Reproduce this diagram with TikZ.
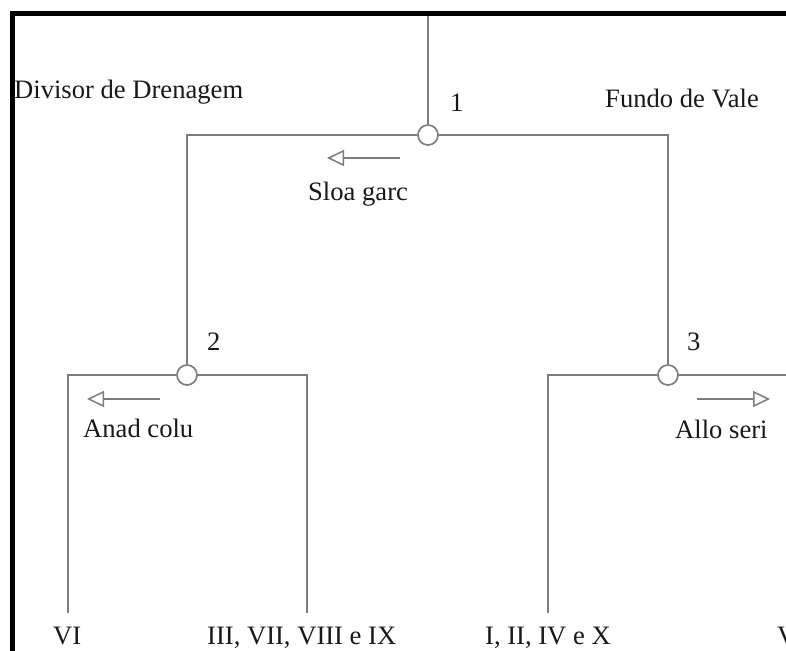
\documentclass[tikz,border=0pt]{standalone}
\usepackage{fontspec}
\setmainfont{Liberation Serif}
\usetikzlibrary{arrows.meta}
\definecolor{linegray}{RGB}{125,125,125}
\definecolor{inkgray}{RGB}{25,25,25}
\begin{document}
\begin{tikzpicture}[x=1pt,y=-1pt,
  branch/.style={draw=linegray,line width=1.7pt},
  junction/.style={circle,draw=linegray,line width=1.7pt,fill=white,minimum size=20pt,inner sep=0pt},
  lbl/.style={anchor=base west,text=inkgray,font=\fontsize{26.6}{30}\selectfont,inner sep=0pt},
  dirarrow/.style={draw=linegray,line width=1.5pt,-{Triangle[open,length=17pt,width=16pt]}},
  frame/.style={draw=black,line width=5pt}]
\useasboundingbox (0,0) rectangle (786,650);
\clip (0,0) rectangle (786,650);
\fill[white] (0,0) rectangle (786,650);

% outer frame (top and left edges)
\draw[frame] (12.5,660) -- (12.5,13.5) -- (800,13.5);

% junctions
\coordinate (root) at (428,16);
\node[junction] (n1) at (428,135) {};
\node[junction] (n2) at (187,375) {};
\node[junction] (n3) at (668,375) {};

% leaf ends
\coordinate (l1) at (68,613);
\coordinate (l2) at (307,613);
\coordinate (l3) at (548,613);
\coordinate (l4) at (793,613);

% branches
\draw[branch] (root) -- (n1.north);
\draw[branch] (n2.north) |- (n1.west);
\draw[branch] (n3.north) |- (n1.east);
\draw[branch] (l1) |- (n2.west);
\draw[branch] (l2) |- (n2.east);
\draw[branch] (l3) |- (n3.west);
\draw[branch] (l4) |- (n3.east);

% direction arrows
\coordinate (a1s) at (400,158); \coordinate (a1e) at (327,158);
\coordinate (a2s) at (160,399); \coordinate (a2e) at (87,399);
\coordinate (a3s) at (697,399); \coordinate (a3e) at (770,399);
\draw[dirarrow] (a1s) -- (a1e);
\draw[dirarrow] (a2s) -- (a2e);
\draw[dirarrow] (a3s) -- (a3e);

% labels
\node[lbl] (tdiv) at (14,99) {Divisor de Drenagem};
\node[lbl] (tfun) at (605,107) {Fundo de Vale};
\node[lbl] (t1) at (450,111) {1};
\node[lbl] (t2) at (207,350) {2};
\node[lbl] (t3) at (687,350) {3};
\node[lbl] (tsp1) at (308,200) {Sloa garc};
\node[lbl] (tsp2) at (83,437) {Anad colu};
\node[lbl] (tsp3) at (675,438) {Allo seri};
\node[lbl] (g1) at (53,644) {VI};
\node[lbl] (g2) at (207,644) {III, VII, VIII e IX};
\node[lbl] (g3) at (485,644) {I, II, IV e X};
\node[lbl] (g4) at (777,644) {V};
\end{tikzpicture}
\end{document}
